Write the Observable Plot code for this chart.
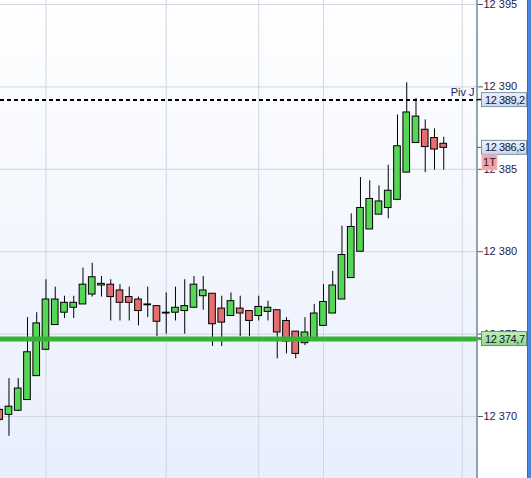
<!DOCTYPE html>
<html><head><meta charset="utf-8">
<script src="https://cdn.jsdelivr.net/npm/d3@7"></script>
<script src="https://cdn.jsdelivr.net/npm/@observablehq/plot@0.6"></script>
<style>body{margin:0;background:#fff}#chart svg{display:block}</style>
</head><body><div id="chart"></div>
<script>
// Candle data (index = bar position)
const opens  = [12370.4,12370.1,12370.35,12371.0,12372.45,12374.05,12375.55,12376.3,12376.6,12376.8,12377.4,12377.95,12378.0,12377.65,12377.25,12377.1,12376.8,12376.7,12376.3,12376.3,12376.4,12376.6,12377.3,12377.45,12376.55,12376.1,12376.55,12376.4,12376.1,12376.35,12376.45,12375.8,12375.15,12374.45,12374.75,12375.5,12376.25,12377.1,12378.4,12380.0,12381.35,12382.25,12382.65,12383.15,12384.8,12386.6,12387.4,12386.9,12386.55];
const highs  = [12370.5,12372.3,12372.3,12376.0,12376.3,12378.3,12377.85,12377.3,12377.3,12379.0,12379.3,12378.5,12378.3,12378.0,12377.85,12377.25,12377.85,12376.7,12377.5,12377.85,12378.3,12378.5,12378.5,12377.45,12377.3,12377.5,12377.3,12376.4,12377.3,12377.0,12376.45,12376.0,12375.15,12376.0,12376.8,12378.0,12378.8,12381.55,12382.3,12384.5,12384.3,12384.0,12385.25,12388.3,12390.25,12389.3,12388.0,12387.45,12386.95];
const lows   = [12369.7,12368.8,12370.3,12371.0,12372.45,12374.05,12375.55,12375.95,12375.95,12376.8,12377.25,12377.25,12375.8,12375.8,12375.8,12375.5,12376.0,12374.85,12375.0,12375.8,12375.0,12376.6,12376.45,12374.25,12374.25,12376.1,12374.85,12374.85,12375.8,12375.8,12373.5,12373.8,12373.5,12374.3,12374.75,12375.5,12376.25,12377.1,12378.4,12380.0,12381.35,12382.25,12382.0,12383.15,12384.8,12386.6,12384.8,12384.95,12384.95];
const closes = [12369.8,12370.6,12371.7,12373.9,12375.65,12377.1,12377.1,12376.9,12376.9,12378.0,12378.45,12378.05,12377.25,12376.9,12376.9,12376.4,12376.75,12375.75,12376.25,12376.6,12376.7,12378.0,12377.65,12375.6,12375.7,12377.0,12376.25,12375.8,12376.65,12376.6,12375.1,12374.55,12373.8,12375.1,12376.25,12376.95,12377.95,12379.8,12381.5,12382.65,12383.2,12383.05,12383.7,12386.4,12388.45,12388.2,12386.35,12386.2,12386.3];
const timeGrid = [5, 18, 28, 35, 50];
const yTicks = [12370, 12375, 12380, 12385, 12390, 12395];
const pivotLevel = 12389.2;
const supportLevel = 12374.7;
const lastPrice = 12386.3;
const pivotLabel = "Piv J";
const timeframeLabel = "1T";

const W = 531, H = 478, MR = 54;
const candles = opens.map((o, i) => ({i, o, h: highs[i], l: lows[i], c: closes[i]}));
const fmtTick = d => d3.format(",")(d).replace(",", " ");
const fmtPrice = d => d3.format(",.1f")(d).replace(",", " ").replace(".", ",");

const chart = Plot.plot({
  width: W, height: H,
  marginLeft: 0, marginRight: MR, marginTop: 0, marginBottom: 0,
  style: {
    background: "linear-gradient(#ffffff, #e8eefc) 0 0 / 477px 100% no-repeat, #ffffff",
    fontFamily: "'Liberation Sans', Arial, sans-serif",
    fontSize: "11px",
    color: "#1c1c4c"
  },
  x: {domain: [0.084, 51.65], axis: null},
  y: {domain: [12366.24, 12395.243], axis: null},
  marks: [
    Plot.gridY(yTicks, {stroke: "#cfd5e3", strokeOpacity: 1}),
    Plot.gridX(timeGrid, {stroke: "#cfd5e3", strokeOpacity: 1}),
    Plot.ruleX(candles, {x: "i", y1: "l", y2: "h", stroke: "#000", strokeWidth: 1, clip: true}),
    Plot.rect(candles, {
      x1: d => d.i - 0.36, x2: d => d.i + 0.36, y1: "o", y2: "c",
      fill: d => d.c >= d.o ? "#55d655" : "#e66e6e",
      stroke: "#000", strokeWidth: 1, clip: true
    }),
    Plot.ruleY([pivotLevel], {stroke: "#000", strokeWidth: 2, strokeDasharray: "4,3"}),
    Plot.ruleY([supportLevel], {stroke: "#36b336", strokeWidth: 5}),
    Plot.text([pivotLabel], {y: pivotLevel, frameAnchor: "right", textAnchor: "end", dx: -3, dy: -8, fill: "#22225a", fontSize: 11}),
    Plot.axisY(yTicks, {anchor: "right", tickSize: 5, tickPadding: 1, tickFormat: fmtTick, stroke: "#4a5a70", fill: "#1c1c4c", fontSize: 11})
  ]
});

document.getElementById("chart").appendChild(chart);

// Annotations on the price axis, positioned with the chart's y scale
const y = chart.scale("y");
const svg = d3.select(chart);
const px = W - MR;
const defs = svg.append("defs");
function grad(id, c1, c2) {
  const g = defs.append("linearGradient").attr("id", id).attr("x1", 0).attr("y1", 0).attr("x2", 0).attr("y2", 1);
  g.append("stop").attr("offset", "0%").attr("stop-color", c1);
  g.append("stop").attr("offset", "100%").attr("stop-color", c2);
}
grad("gBlue", "#eef2fa", "#c9d6ec");
grad("gGreen", "#c4f0bc", "#8fd986");

const ann = svg.append("g").attr("text-anchor", "start");
ann.append("line").attr("x1", px).attr("x2", px).attr("y1", 0).attr("y2", H)
  .attr("stroke", "#6f8798").attr("stroke-width", 1.5);

function priceBox(v, fill, border, conn, connW) {
  const yy = y.apply(v);
  ann.append("line").attr("x1", px).attr("x2", px + 5).attr("y1", yy).attr("y2", yy)
    .attr("stroke", conn).attr("stroke-width", connW);
  ann.append("rect").attr("x", px + 4.5).attr("y", yy - 7).attr("width", 45).attr("height", 14)
    .attr("fill", fill).attr("stroke", border).attr("stroke-width", 1);
  ann.append("text").attr("x", px + 8).attr("y", yy + 4)
    .attr("text-anchor", "start")
    .attr("fill", "#141432").attr("font-size", 11).attr("letter-spacing", -0.4)
    .text(fmtPrice(v));
  return yy;
}
priceBox(pivotLevel, "url(#gBlue)", "#7f93a8", "#000", 1.5);
const yLast = priceBox(lastPrice, "url(#gBlue)", "#7f93a8", "#4a5a70", 1);
priceBox(supportLevel, "url(#gGreen)", "#6f8f78", "#36b336", 3);

ann.append("rect").attr("x", px + 5).attr("y", yLast + 7.5).attr("width", 15).attr("height", 15)
  .attr("fill", "#f4a3a3").attr("stroke", "#f2baba");
ann.append("text").attr("x", px + 12.5).attr("y", yLast + 19).attr("text-anchor", "middle")
  .attr("fill", "#1c1c4c").attr("font-size", 11).text(timeframeLabel);

ann.append("rect").attr("x", 527).attr("y", 0).attr("width", 4).attr("height", H).attr("fill", "#4a86e8");
ann.append("line").attr("x1", 527.5).attr("x2", 527.5).attr("y1", 0).attr("y2", H).attr("stroke", "#3068cc");
</script>
</body></html>
